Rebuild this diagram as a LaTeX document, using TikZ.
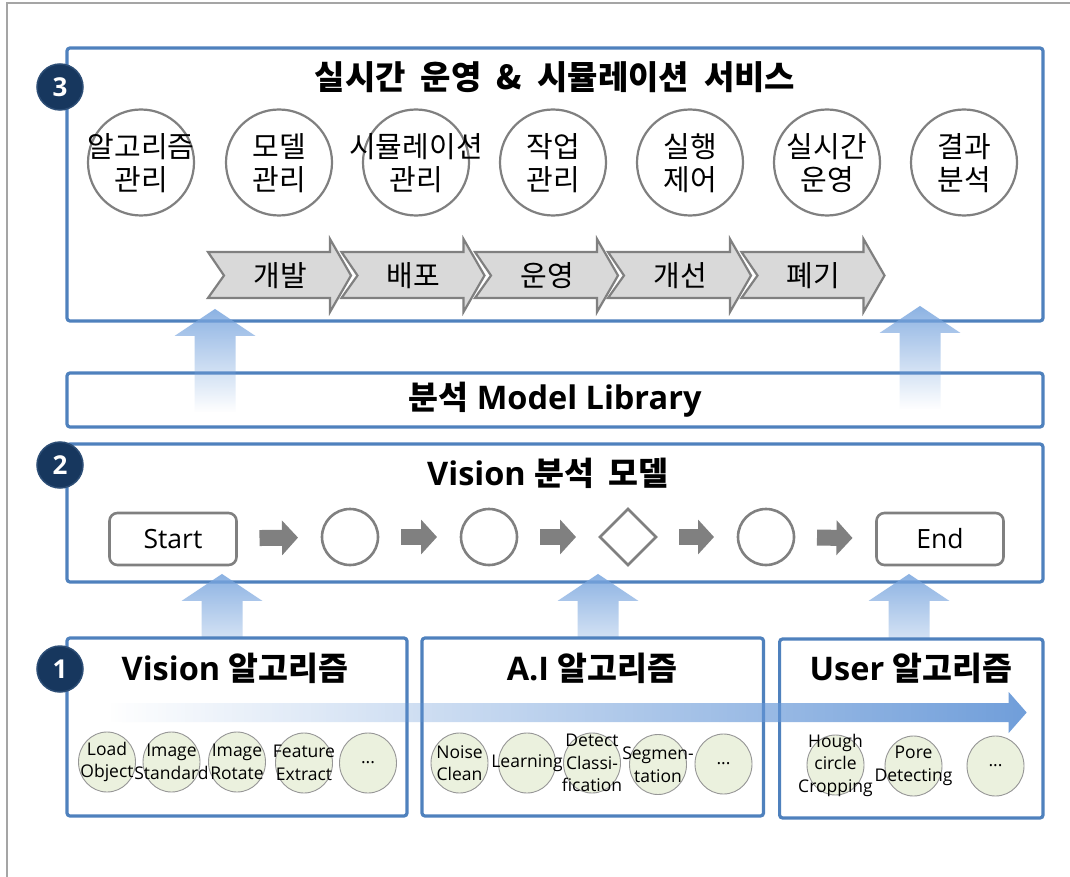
\documentclass[tikz,border=0pt]{standalone}
\usepackage{fontspec}
\setmainfont{Open Sans}
\newfontfamily\kr{Noto Sans CJK KR}[WordSpace=1.4]
\newfontfamily\krwide{Noto Sans CJK KR}[WordSpace=2]
\usetikzlibrary{shapes.geometric,fadings,arrows.meta}

\definecolor{boxblue}{RGB}{79,129,189}
\definecolor{navy}{RGB}{23,55,94}
\definecolor{navyedge}{RGB}{44,77,117}
\definecolor{ringgray}{RGB}{128,128,128}
\definecolor{chevfill}{RGB}{217,217,217}
\definecolor{liftblue}{RGB}{120,165,222}
\definecolor{sweepblue}{RGB}{100,150,215}
\definecolor{algfill}{RGB}{235,241,222}
\definecolor{algedge}{RGB}{150,150,150}
\definecolor{framegray}{RGB}{165,165,165}

\tikzfading[name=liftfade, top color=transparent!15, bottom color=transparent!100]
\tikzfading[name=sweepfade, left color=transparent!100, right color=transparent!8]

\begin{document}
\begin{tikzpicture}[x=1pt,y=-1pt,
  panel/.style={draw=boxblue, line width=3.2pt, rounded corners=3pt, fill=white, inner sep=0pt, outer sep=0pt},
  badge/.style={circle, fill=navy, draw=navyedge, line width=1.5pt, minimum size=46pt, inner sep=0pt,
    text=white, font=\fontsize{26}{26}\selectfont\bfseries},
  headA/.style={inner sep=0pt, text height=25pt, text depth=0pt, font=\krwide\fontsize{33}{36}\selectfont\bfseries},
  headB/.style={inner sep=0pt, text height=24.7pt, text depth=0pt, font=\fontsize{32.5}{36}\selectfont\bfseries},
  headC/.style={inner sep=0pt, text height=24.7pt, text depth=0pt, font=\fontsize{32.5}{36}\selectfont\bfseries},
  ring/.style={circle, draw=ringgray, line width=2.2pt, minimum size=106pt, inner sep=0pt},
  ringtext/.style={align=center, inner sep=0pt, font=\kr\fontsize{29}{33}\selectfont},
  chev/.style={fill=chevfill, draw=ringgray, line width=2.2pt, line join=miter},
  chevtext/.style={inner sep=0pt, text height=22pt, text depth=0pt, font=\kr\fontsize{29}{32}\selectfont},
  stepbox/.style={rectangle, rounded corners=8pt, draw=ringgray, line width=2.6pt, minimum width=127pt,
    minimum height=52pt, inner sep=0pt, outer sep=0pt, font=\fontsize{26.5}{30}\selectfont},
  stepring/.style={circle, draw=ringgray, line width=2.6pt, minimum size=56pt, inner sep=0pt, outer sep=0pt},
  stepgate/.style={diamond, draw=ringgray, line width=2.6pt, minimum width=56pt, minimum height=56pt,
    inner sep=0pt, outer sep=0pt},
  flowconn/.style={draw=ringgray, line width=16pt, shorten <=23pt, shorten >=24pt,
    -{Triangle[width=34pt,length=16pt]}},
  alg/.style={ellipse, fill=algfill, draw=algedge, line width=0.9pt, minimum width=57pt,
    minimum height=60pt, inner sep=0pt},
  algtext/.style={align=center, inner sep=0pt, font=\fontsize{17.5}{22.5}\selectfont},
  lift/.pic={\fill[liftblue, path fading=liftfade] (0,0) -- (40.5,27) -- (20.5,27) -- (20.5,103)
    -- (-20.5,103) -- (-20.5,27) -- (-40.5,27) -- cycle;}
]
\useasboundingbox (0,0) rectangle (1070,877);
\fill[white] (0,0) rectangle (1070,877);

% outer frame
\draw[framegray, line width=1.3pt] (7,877) -- (7,3) -- (1070,3);

% upper panels
\node[panel, minimum width=976pt, minimum height=273pt] (svc) at (555,184.5) {};
\node[panel, minimum width=976pt, minimum height=54pt] (lib) at (555,400) {};
\node[panel, minimum width=976pt, minimum height=138pt] (model) at (555,513) {};

% lifts between the layers
\pic at (215,309) {lift};
\pic at (920,306) {lift};
\pic at (222,574) {lift};
\pic at (598,574) {lift};
\pic at (909,574) {lift};

% algorithm panels
\node[panel, minimum width=340pt, minimum height=178pt] (visalg) at (237,727) {};
\node[panel, minimum width=341.5pt, minimum height=178pt] (aialg) at (592.75,727) {};
\node[panel, minimum width=263.4pt, minimum height=179pt] (usralg) at (911.3,728.5) {};

% sweep arrow across the algorithm panels
\fill[sweepblue, path fading=sweepfade] (110,703) -- (1009,703) -- (1009,692) -- (1027,712.5)
  -- (1009,733) -- (1009,722) -- (110,722) -- cycle;

% numbered badges
\node[badge] (b3) at (60,87) {3};
\node[badge] (b2) at (60,465) {2};
\node[badge] (b1) at (60,669) {1};

% layer 3: services
\node[headA] (svct) at (555,77) {실시간 운영 \& 시뮬레이션 서비스};
\foreach \n/\x/\a/\b in {1/141/알고리즘/관리, 2/279/모델/관리, 3/416/시뮬레이션/관리,
    4/553/작업/관리, 5/690/실행/제어, 6/827/실시간/운영, 7/964/결과/분석}{
  \node[ring] (s\n) at (\x,162.5) {};
  \node[ringtext] (s\n t) at (\x,163.5) {\a\\\b};
}
\foreach \n/\x/\t in {1/208/개발, 2/341.5/배포, 3/475/운영, 4/608/개선, 5/741.5/폐기}{
  \draw[chev] (\x,252) -- (\x+122,252) -- (\x+122,239) -- (\x+143,275.5) -- (\x+122,312)
    -- (\x+122,298) -- (\x,298) -- (\x+16,275.5) -- cycle;
  \node[chevtext] (c\n) at (\x+72,276) {\t};
}

% model library
\node[headB] (libt) at (555,397) {{\kr 분석} Model Library};

% layer 2: analysis model flow
\node[headB] (modelt) at (548,473) {Vision {\kr 분석 모델}};
\node[stepbox] (start) at (173,539) {Start};
\node[stepring] (f1) at (350,537) {};
\node[stepring] (f2) at (489,537) {};
\node[stepgate] (f3) at (628,537) {};
\node[stepring] (f4) at (766,537) {};
\node[stepbox] (end) at (940,539) {End};
\draw[flowconn] (start) -- (f1);
\draw[flowconn] (f1) -- (f2);
\draw[flowconn] (f2) -- (f3);
\draw[flowconn] (f3) -- (f4);
\draw[flowconn] (f4) -- (end);

% layer 1: algorithms
\node[headC] (visalgt) at (235,668) {Vision {\kr 알고리즘}};
\node[headC] (aialgt) at (592,668) {A.I {\kr 알고리즘}};
\node[headC] (usralgt) at (911,668) {User {\kr 알고리즘}};

\foreach \n/\x/\y/\t in {1/107/762/{Load\\Object}, 2/171.5/762/{Image\\Standard},
    3/237/762/{Image\\Rotate}, 4/304/763/{Feature\\Extract}, 5/368/763/{...}}{
  \node[alg] (v\n) at (\x,\y) {};
  \node[algtext] (v\n t) at (\x,\y) {\t};
}
\foreach \n/\x/\y/\t in {1/459.5/763/{Noise\\Clean}, 2/527/763/{Learning},
    3/592/763/{Detect\\Classi-\\fication}, 4/658/764.5/{Segmen-\\tation}, 5/723.5/764/{...}}{
  \node[alg] (a\n) at (\x,\y) {};
  \node[algtext] (a\n t) at (\x,\y) {\t};
}
\foreach \n/\x/\y/\t in {1/835.5/765/{Hough\\circle\\Cropping}, 2/913.5/766/{Pore\\Detecting},
    3/995.5/766/{...}}{
  \node[alg] (u\n) at (\x,\y) {};
  \node[algtext] (u\n t) at (\x,\y) {\t};
}
\end{tikzpicture}
\end{document}
